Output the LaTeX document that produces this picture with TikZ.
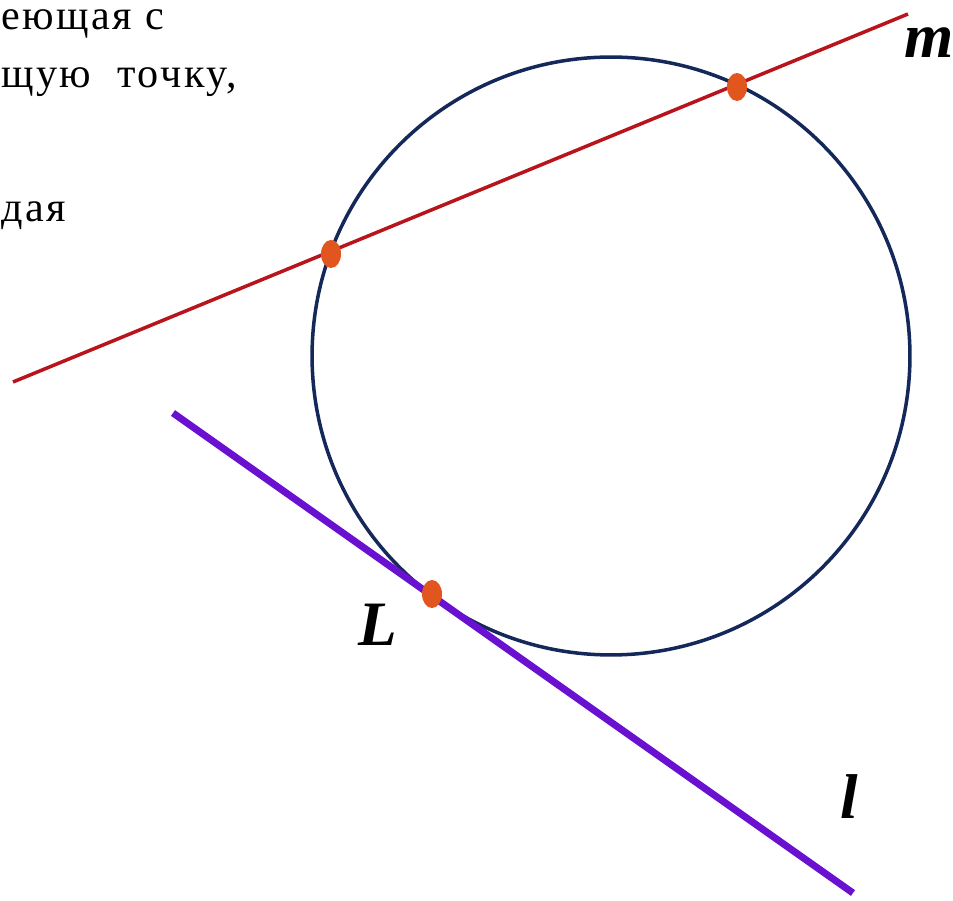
\documentclass[tikz,border=0pt]{standalone}
\usepackage{fontspec}
\setmainfont{Liberation Serif}
\usetikzlibrary{shapes.geometric}
\definecolor{cM}{RGB}{184,20,28}
\definecolor{cL}{RGB}{106,16,208}
\definecolor{cO}{RGB}{21,40,90}
\definecolor{cP}{RGB}{224,86,30}

\begin{document}
\begin{tikzpicture}[x=0.02cm, y=-0.02cm,
    pt/.style={ellipse, fill=cP, inner sep=0pt, minimum width=0.4cm, minimum height=0.56cm},
    lbl/.style={anchor=base west, inner sep=0pt, font=\fontsize{36}{40}\selectfont\bfseries\itshape},
    txt/.style={anchor=base west, inner sep=0pt, font=\fontsize{24}{28}\selectfont\addfontfeature{LetterSpace=6}}]
   \useasboundingbox (0,0) rectangle (953,901);

   % Text left over from the slide
   \node[txt] (t1) at (1,30) {еющая с};
   \node[txt] (t2) at (1,88) {щую \ точку,};
   \node[txt] (t3) at (1,222) {дая};

   % Circle
   \node[circle, draw=cO, line width=2pt, inner sep=0pt, minimum size=11.96cm] (c) at (611,356) {};

   % Secant m and tangent l
   \coordinate (m1) at (13,382);
   \coordinate (m2) at (908,14);
   \coordinate (l1) at (173,413);
   \coordinate (l2) at (853,893);
   \draw[cM, line width=2pt] (m1) -- (m2);
   \draw[cL, line width=4pt] (l1) -- (l2);

   % Common points
   \node[pt] (a) at (331,254) {};
   \node[pt] (b) at (737,87) {};
   \node[pt] (L) at (432,594) {};

   % Labels
   \node[lbl] (lm) at (904,58) {m};
   \node[lbl] (lL) at (358,645) {L};
   \node[lbl] (ll) at (840,818) {l};
\end{tikzpicture}
\end{document}
